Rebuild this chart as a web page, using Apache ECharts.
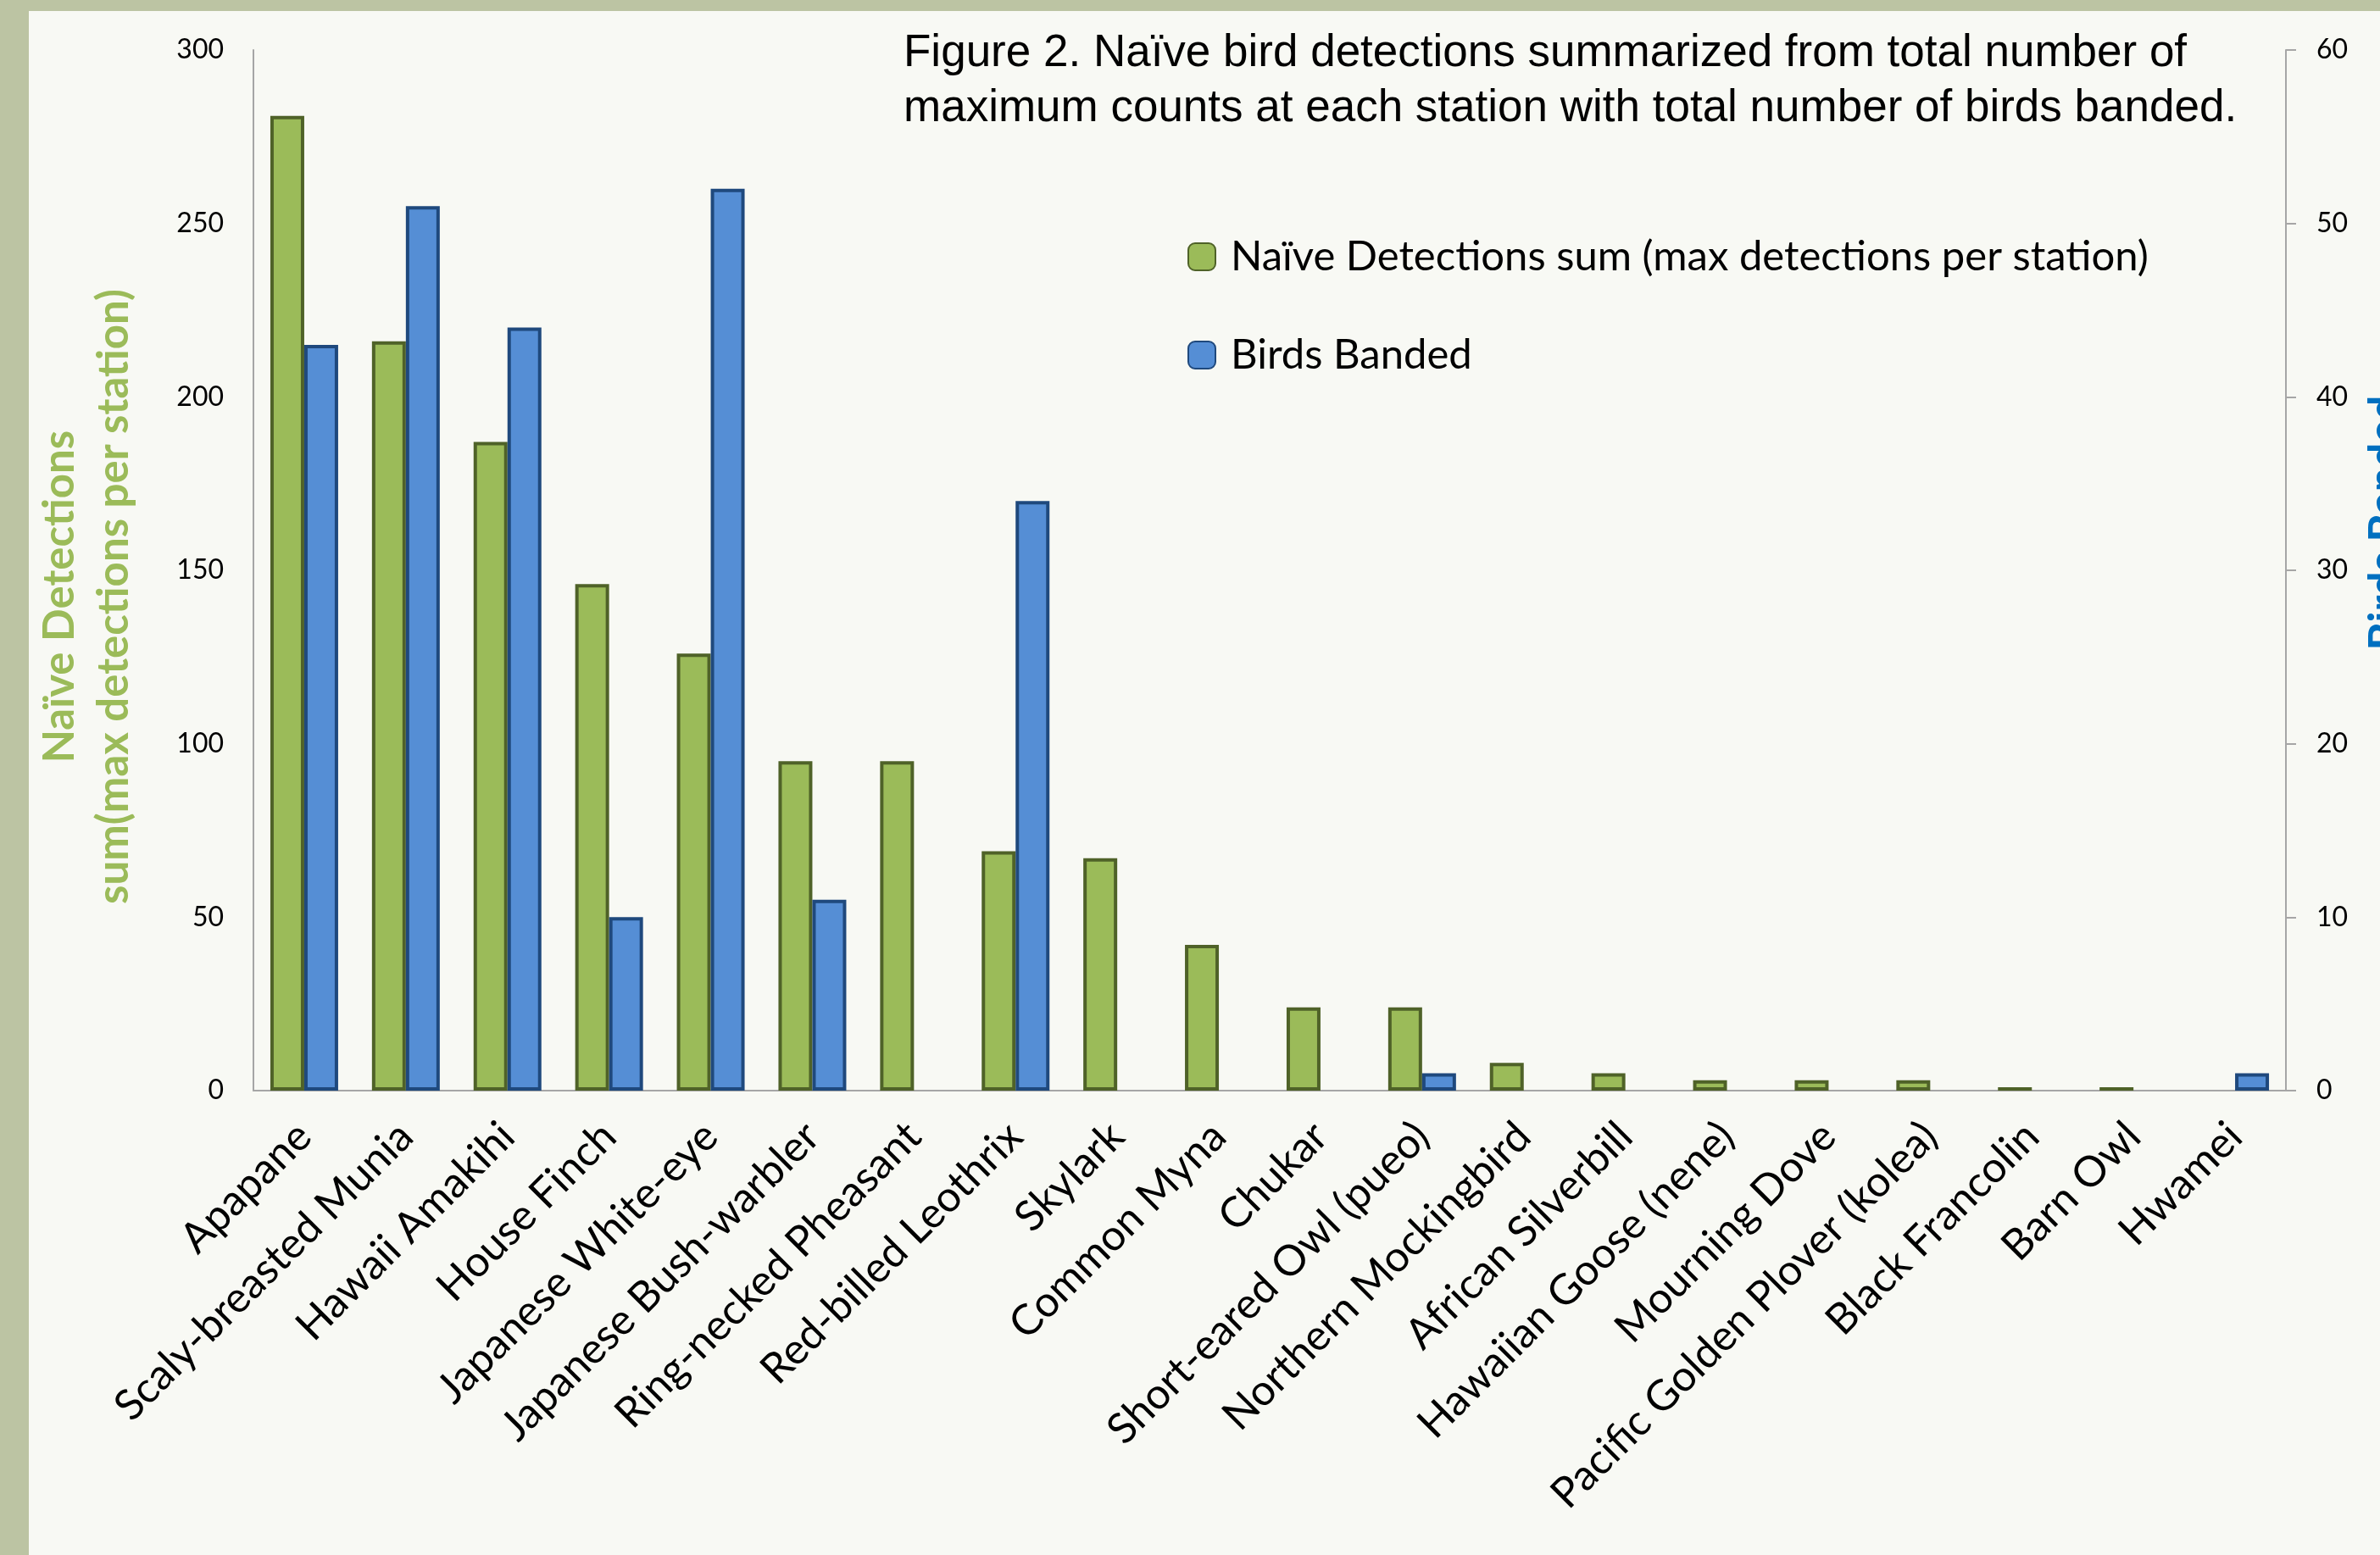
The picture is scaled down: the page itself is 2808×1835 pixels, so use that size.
<!DOCTYPE html>
<html style="height: 100%" lang="en">

<head>
  <meta charset="utf-8">
  <script type="text/javascript" src="https://cdn.jsdelivr.net/npm/echarts@6/dist/echarts.min.js"></script>
</head>

<body style="height: 100%; margin: 0; background: #bcc4a3; overflow: hidden">
  <div id="container" style="position: absolute; left: 34px; top: 13px; width: 2774px; height: 1822px"></div>
  <script type="text/javascript">
    var categories = ['Apapane', 'Scaly-breasted Munia', 'Hawaii Amakihi', 'House Finch', 'Japanese White-eye',
      'Japanese Bush-warbler', 'Ring-necked Pheasant', 'Red-billed Leothrix', 'Skylark', 'Common Myna', 'Chukar',
      'Short-eared Owl (pueo)', 'Northern Mockingbird', 'African Silverbill', 'Hawaiian Goose (nene)', 'Mourning Dove',
      'Pacific Golden Plover (kolea)', 'Black Francolin', 'Barn Owl', 'Hwamei'];
    // sum of max detections per station (left axis)
    var naiveDetections = [281, 216, 187, 146, 126, 95, 95, 69, 67, 42, 24, 24, 8, 5, 3, 3, 3, 1, 1, 0];
    // birds banded (right axis)
    var birdsBanded = [43, 51, 44, 10, 52, 11, 0, 34, 0, 0, 0, 1, 0, 0, 0, 0, 0, 0, 0, 1];

    var seriesNames = ['Naïve Detections sum (max detections per station)', 'Birds Banded'];

    function noZero(arr) {
      return arr.map(function(v) {
        return v === 0 ? null : v;
      });
    }

    var dom = document.getElementById('container');
    var myChart = echarts.init(dom);

    var option = {
      backgroundColor: '#f8f9f4',
      animation: false,
      title: {
        text: 'Figure 2. Naïve bird detections summarized from total number of\nmaximum counts at each station with total number of birds banded.',
        left: 1027,
        top: 13,
        textStyle: {
          fontFamily: 'Liberation Sans',
          fontWeight: 'normal',
          fontSize: 53,
          lineHeight: 65,
          color: '#000'
        }
      },
      legend: {
        orient: 'vertical',
        left: 1362,
        top: 260,
        itemWidth: 32,
        itemHeight: 32,
        itemGap: 66,
        data: seriesNames,
        textStyle: {
          fontFamily: 'Lato',
          fontSize: 49,
          lineHeight: 50,
          color: '#000',
          padding: [0, 0, 0, 13]
        }
      },
      grid: {
        left: 265,
        right: 111,
        top: 46,
        bottom: 548,
        outerBoundsMode: 'none'
      },
      xAxis: {
        type: 'category',
        data: categories,
        axisLine: {
          lineStyle: { color: '#a6a6a6', width: 2 }
        },
        axisTick: { show: false },
        axisLabel: {
          interval: 0,
          rotate: 45,
          margin: 46,
          fontFamily: 'Lato',
          fontSize: 50,
          color: '#000'
        }
      },
      yAxis: [{
        type: 'value',
        min: 0,
        max: 300,
        interval: 50,
        name: 'Naïve Detections\nsum(max detections per station)',
        nameLocation: 'middle',
        nameRotate: 90,
        nameGap: 132,
        nameTextStyle: {
          fontFamily: 'Lato',
          fontWeight: 'bold',
          fontSize: 51,
          lineHeight: 64,
          color: '#9bbb59',
          padding: [0, 62, 0, 0]
        },
        axisLine: {
          show: true,
          lineStyle: { color: '#a6a6a6', width: 2 }
        },
        axisTick: { show: false },
        splitLine: { show: false },
        axisLabel: {
          margin: 35,
          fontFamily: 'Lato',
          fontSize: 32,
          color: '#000'
        }
      }, {
        type: 'value',
        min: 0,
        max: 60,
        interval: 10,
        position: 'right',
        name: 'Birds Banded',
        nameLocation: 'middle',
        nameRotate: 90,
        nameGap: 92,
        nameTextStyle: {
          fontFamily: 'Lato',
          fontWeight: 'bold',
          fontSize: 51,
          color: '#0070c0',
          padding: [0, 0, 0, 112]
        },
        axisLine: {
          show: true,
          lineStyle: { color: '#a6a6a6', width: 2 }
        },
        axisTick: {
          show: true,
          length: 12,
          lineStyle: { color: '#a6a6a6', width: 2 }
        },
        splitLine: { show: false },
        axisLabel: {
          margin: 36,
          fontFamily: 'Lato',
          fontSize: 32,
          color: '#000'
        }
      }],
      series: [{
        name: seriesNames[0],
        type: 'bar',
        yAxisIndex: 0,
        barWidth: 40,
        barGap: '0%',
        data: noZero(naiveDetections),
        itemStyle: {
          color: '#9bbb59',
          borderColor: '#4f6228',
          borderWidth: 4
        }
      }, {
        name: seriesNames[1],
        type: 'bar',
        yAxisIndex: 1,
        barWidth: 40,
        barGap: '0%',
        data: noZero(birdsBanded),
        itemStyle: {
          color: '#558ed5',
          borderColor: '#1f497d',
          borderWidth: 4
        }
      }]
    };

    myChart.setOption(option);
  </script>
</body>

</html>
